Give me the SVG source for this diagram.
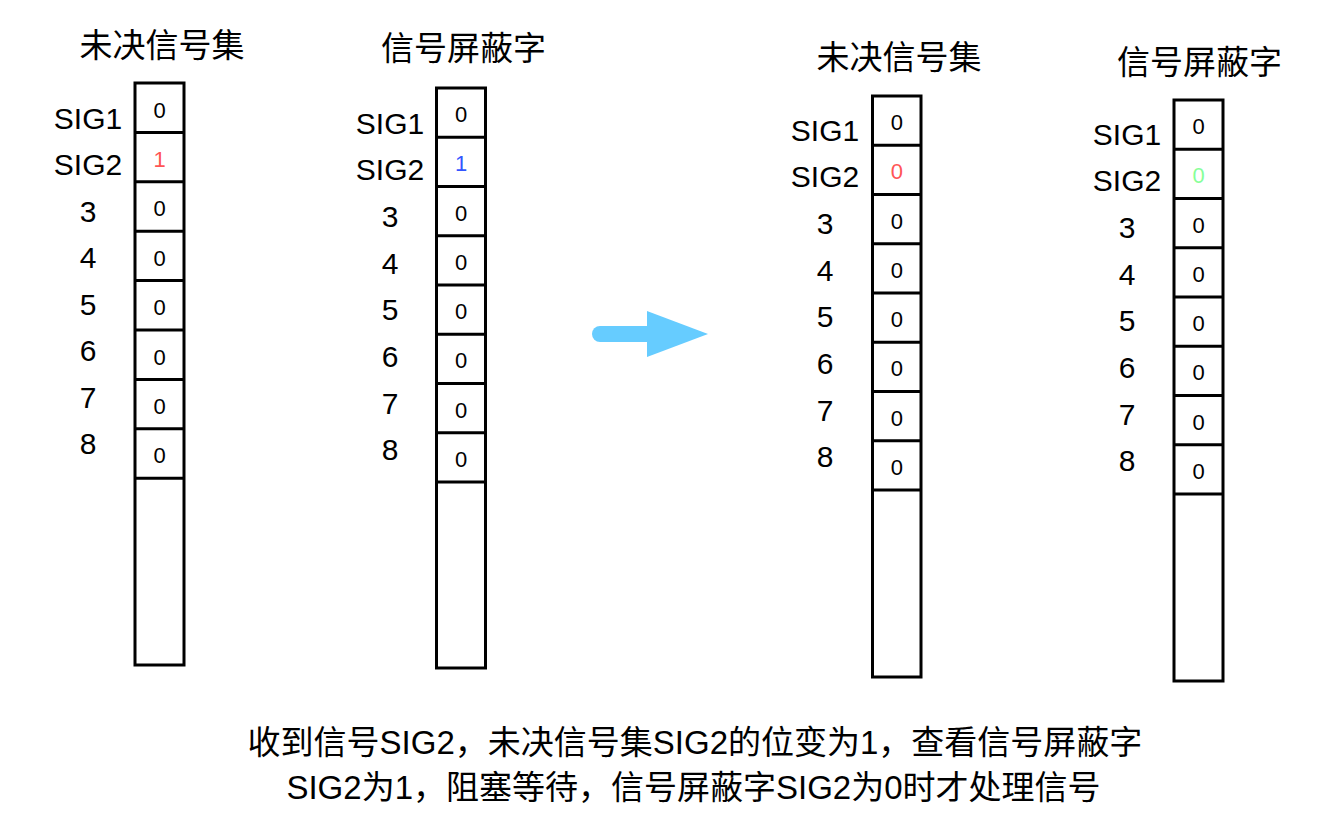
<svg xmlns="http://www.w3.org/2000/svg" width="1322" height="824" viewBox="0 0 1322 824">
<style>
.box{fill:#fff;stroke:#000;stroke-width:3}
.div{stroke:#000;stroke-width:3}
.title{font-family:"Liberation Sans","Noto Sans CJK SC",sans-serif;font-size:33px;fill:#000;text-anchor:middle}
.lbl{font-family:"Liberation Sans","Noto Sans CJK SC",sans-serif;font-size:30px;fill:#000;text-anchor:middle}
.val{font-family:"Liberation Sans","Noto Sans CJK SC",sans-serif;font-size:22px;fill:#000;text-anchor:middle}
.cap{font-family:"Liberation Sans","Noto Sans CJK SC",sans-serif;font-size:33px;fill:#000;text-anchor:middle}
</style>
<rect width="1322" height="824" fill="#fff"/>

<g id="pending-before">
<text class="title" x="162" y="57">未决信号集</text>
<rect class="box" x="135" y="83" width="49" height="582"/>
<g class="div">
<line x1="135" y1="132.4" x2="184" y2="132.4"/>
<line x1="135" y1="181.8" x2="184" y2="181.8"/>
<line x1="135" y1="231.2" x2="184" y2="231.2"/>
<line x1="135" y1="280.6" x2="184" y2="280.6"/>
<line x1="135" y1="330" x2="184" y2="330"/>
<line x1="135" y1="379.4" x2="184" y2="379.4"/>
<line x1="135" y1="428.8" x2="184" y2="428.8"/>
<line x1="135" y1="478.2" x2="184" y2="478.2"/>
</g>
<text class="val" x="159.5" y="117.5">0</text>
<text class="val" x="159.5" y="166.9" style="fill:#FF5555">1</text>
<text class="val" x="159.5" y="216.3">0</text>
<text class="val" x="159.5" y="265.7">0</text>
<text class="val" x="159.5" y="315.1">0</text>
<text class="val" x="159.5" y="364.5">0</text>
<text class="val" x="159.5" y="413.9">0</text>
<text class="val" x="159.5" y="463.3">0</text>
<text class="lbl" x="88" y="128.5">SIG1</text>
<text class="lbl" x="88" y="175">SIG2</text>
<text class="lbl" x="88" y="221.5">3</text>
<text class="lbl" x="88" y="268">4</text>
<text class="lbl" x="88" y="314.5">5</text>
<text class="lbl" x="88" y="361">6</text>
<text class="lbl" x="88" y="407.5">7</text>
<text class="lbl" x="88" y="454">8</text>
</g>

<g id="mask-before">
<text class="title" x="463.5" y="60">信号屏蔽字</text>
<rect class="box" x="436.5" y="88" width="49" height="580"/>
<g class="div">
<line x1="436.5" y1="137.25" x2="485.5" y2="137.25"/>
<line x1="436.5" y1="186.5" x2="485.5" y2="186.5"/>
<line x1="436.5" y1="235.75" x2="485.5" y2="235.75"/>
<line x1="436.5" y1="285" x2="485.5" y2="285"/>
<line x1="436.5" y1="334.25" x2="485.5" y2="334.25"/>
<line x1="436.5" y1="383.5" x2="485.5" y2="383.5"/>
<line x1="436.5" y1="432.75" x2="485.5" y2="432.75"/>
<line x1="436.5" y1="482" x2="485.5" y2="482"/>
</g>
<text class="val" x="461" y="122">0</text>
<text class="val" x="461" y="171.25" style="fill:#3355FF">1</text>
<text class="val" x="461" y="220.5">0</text>
<text class="val" x="461" y="269.75">0</text>
<text class="val" x="461" y="319">0</text>
<text class="val" x="461" y="368.25">0</text>
<text class="val" x="461" y="417.5">0</text>
<text class="val" x="461" y="466.75">0</text>
<text class="lbl" x="390" y="133.5">SIG1</text>
<text class="lbl" x="390" y="180.2">SIG2</text>
<text class="lbl" x="390" y="226.9">3</text>
<text class="lbl" x="390" y="273.6">4</text>
<text class="lbl" x="390" y="320.3">5</text>
<text class="lbl" x="390" y="367">6</text>
<text class="lbl" x="390" y="413.7">7</text>
<text class="lbl" x="390" y="460.4">8</text>
</g>

<g id="connectors">
<line x1="600" y1="334" x2="650" y2="334" stroke="#66CCFF" stroke-width="16" stroke-linecap="round"/>
<polygon points="647,311 708,334 647,357" fill="#66CCFF"/>
</g>

<g id="pending-after">
<text class="title" x="899" y="69">未决信号集</text>
<rect class="box" x="872.5" y="96" width="48.5" height="581"/>
<g class="div">
<line x1="872.5" y1="145.25" x2="921" y2="145.25"/>
<line x1="872.5" y1="194.5" x2="921" y2="194.5"/>
<line x1="872.5" y1="243.75" x2="921" y2="243.75"/>
<line x1="872.5" y1="293" x2="921" y2="293"/>
<line x1="872.5" y1="342.25" x2="921" y2="342.25"/>
<line x1="872.5" y1="391.5" x2="921" y2="391.5"/>
<line x1="872.5" y1="440.75" x2="921" y2="440.75"/>
<line x1="872.5" y1="490" x2="921" y2="490"/>
</g>
<text class="val" x="896.75" y="130">0</text>
<text class="val" x="896.75" y="179.25" style="fill:#FF5555">0</text>
<text class="val" x="896.75" y="228.5">0</text>
<text class="val" x="896.75" y="277.75">0</text>
<text class="val" x="896.75" y="327">0</text>
<text class="val" x="896.75" y="376.25">0</text>
<text class="val" x="896.75" y="425.5">0</text>
<text class="val" x="896.75" y="474.75">0</text>
<text class="lbl" x="825" y="140.5">SIG1</text>
<text class="lbl" x="825" y="187.2">SIG2</text>
<text class="lbl" x="825" y="233.9">3</text>
<text class="lbl" x="825" y="280.6">4</text>
<text class="lbl" x="825" y="327.3">5</text>
<text class="lbl" x="825" y="374">6</text>
<text class="lbl" x="825" y="420.7">7</text>
<text class="lbl" x="825" y="467.4">8</text>
</g>

<g id="mask-after">
<text class="title" x="1199.5" y="74">信号屏蔽字</text>
<rect class="box" x="1174" y="100" width="49" height="581"/>
<g class="div">
<line x1="1174" y1="149.25" x2="1223" y2="149.25"/>
<line x1="1174" y1="198.5" x2="1223" y2="198.5"/>
<line x1="1174" y1="247.75" x2="1223" y2="247.75"/>
<line x1="1174" y1="297" x2="1223" y2="297"/>
<line x1="1174" y1="346.25" x2="1223" y2="346.25"/>
<line x1="1174" y1="395.5" x2="1223" y2="395.5"/>
<line x1="1174" y1="444.75" x2="1223" y2="444.75"/>
<line x1="1174" y1="494" x2="1223" y2="494"/>
</g>
<text class="val" x="1198.5" y="134">0</text>
<text class="val" x="1198.5" y="183.25" style="fill:#88FF99">0</text>
<text class="val" x="1198.5" y="232.5">0</text>
<text class="val" x="1198.5" y="281.75">0</text>
<text class="val" x="1198.5" y="331">0</text>
<text class="val" x="1198.5" y="380.25">0</text>
<text class="val" x="1198.5" y="429.5">0</text>
<text class="val" x="1198.5" y="478.75">0</text>
<text class="lbl" x="1127" y="144.5">SIG1</text>
<text class="lbl" x="1127" y="191.2">SIG2</text>
<text class="lbl" x="1127" y="237.9">3</text>
<text class="lbl" x="1127" y="284.6">4</text>
<text class="lbl" x="1127" y="331.3">5</text>
<text class="lbl" x="1127" y="378">6</text>
<text class="lbl" x="1127" y="424.7">7</text>
<text class="lbl" x="1127" y="471.4">8</text>
</g>

<g id="caption">
<text class="cap" x="695" y="754">收到信号SIG2，未决信号集SIG2的位变为1，查看信号屏蔽字</text>
<text class="cap" x="693.5" y="799">SIG2为1，阻塞等待，信号屏蔽字SIG2为0时才处理信号</text>
</g>
</svg>
